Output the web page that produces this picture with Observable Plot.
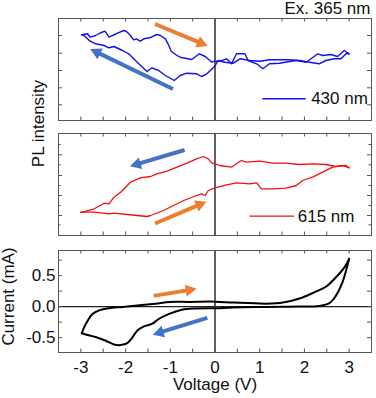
<!DOCTYPE html>
<html><head><meta charset="utf-8">
<script src="https://cdn.jsdelivr.net/npm/d3@7"></script>
<script src="https://cdn.jsdelivr.net/npm/@observablehq/plot@0.6"></script>
<style>
body{margin:0;background:#fff;font-family:"Liberation Sans",Arial,sans-serif;}
#chart{position:relative;width:376px;height:398px;overflow:hidden;background:#fff}
</style></head><body><div id="chart"></div>
<script>
// ---------- tick values ----------
const voltageTicks = [-3,-2.5,-2,-1.5,-1,-0.5,0,0.5,1,1.5,2,2.5,3];
const voltageLabels = [-3,-2,-1,0,1,2,3];
const currentTicks = [-0.5,-0.25,0,0.25,0.5,0.75];
const currentLabels = [-0.5,0,0.5];
const pl430Ticks = [15.7,32.7,50,67.3,85];
const pl615MajorTicks = [20,40,60,80.7];
const pl615MinorTicks = [10.7,30,50,70.7,91];

// ---------- 430 nm PL (a.u.) [voltage, intensity] ----------
const pl430Forward = [[-2.98,85.7],[-2.85,86.7],[-2.79,83.3],[-2.67,85],[-2.57,87.5],[-2.46,89.3],[-2.37,83.3],[-2.22,86.5],[-2.18,87.3],[-2.04,90],[-1.98,89],[-1.89,85],[-1.82,80.7],[-1.76,81.7],[-1.67,79.3],[-1.59,81.7],[-1.46,82.7],[-1.30,86],[-1.22,85],[-1.11,81.7],[-1.05,76.7],[-0.98,69.3],[-0.85,65],[-0.78,63.3],[-0.52,61],[-0.35,66.7],[-0.22,64],[-0.07,58.3],[0,59.3],[0.11,59.3],[0.26,61.7],[0.37,56.7],[0.48,66.7],[0.67,66.7],[0.74,60],[0.93,56.7],[1.07,51.7],[1.22,56.7],[1.44,57.3],[1.67,59],[1.82,60],[2.04,58.3],[2.30,66.7],[2.41,65],[2.59,66],[2.74,64],[2.89,70],[3.0,66.7]];
const pl430Reverse = [[3.0,66.7],[2.93,66.7],[2.82,61.7],[2.67,61.7],[2.48,60],[2.33,56.7],[2.11,58.3],[1.89,60],[1.67,60.7],[1.44,60.7],[1.22,60.7],[1.0,59.3],[0.78,60],[0.56,61.7],[0.41,57.3],[0.22,58.3],[0.07,60],[0,54.5],[-0.18,46.7],[-0.30,44],[-0.41,46.7],[-0.63,47.3],[-0.78,45],[-0.91,40],[-1.11,45],[-1.26,50],[-1.41,52.7],[-1.52,49],[-1.74,58.3],[-1.93,66.7],[-2.07,70],[-2.26,74],[-2.37,72.7],[-2.48,75],[-2.67,76.7],[-2.79,79.3],[-2.93,85],[-2.98,85.7]];

// ---------- 615 nm PL (a.u.) ----------
const pl615Forward = [[-3,23.3],[-2.70,23.3],[-2.37,21.7],[-2.26,22.3],[-1.96,21],[-1.74,20],[-1.52,19],[-1.44,20],[-1.15,25],[-0.93,30],[-0.70,35],[-0.41,40],[-0.30,41.7],[-0.22,40],[-0.15,45],[0,47.7],[0.26,50.7],[0.48,52.7],[0.78,51.7],[0.93,52.7],[1.04,46.7],[1.30,46.7],[1.59,47.3],[1.82,50],[1.96,55],[2.18,58.3],[2.41,63.3],[2.63,68.3],[2.85,70],[3.0,67.7]];
const pl615Reverse = [[3.0,67.7],[2.93,70],[2.70,69],[2.48,71],[2.18,71.7],[1.89,71],[1.59,72.3],[1.30,72.3],[1.0,74.3],[0.70,73.3],[0.59,75],[0.48,71.7],[0.37,68.3],[0.11,70],[0,71.7],[-0.07,72.3],[-0.15,76.7],[-0.26,79],[-0.41,76.7],[-0.63,72.3],[-0.85,68.3],[-1.07,64.3],[-1.30,61.7],[-1.44,59],[-1.67,57.7],[-1.89,53.3],[-2.11,43.3],[-2.26,38.3],[-2.37,31.7],[-2.48,32.3],[-2.70,26.7],[-2.96,23.3],[-3,23.3]];

// ---------- current (mA) ----------
const currentForward = [[-2.98,-0.43],[-2.93,-0.34],[-2.85,-0.23],[-2.74,-0.12],[-2.59,-0.06],[-2.37,-0.026],[-2.07,-0.005],[-1.63,0.027],[-1.33,0.048],[-1.0,0.076],[-0.59,0.076],[0,0.08],[0.41,0.065],[1.15,0.048],[1.52,0.065],[1.89,0.13],[2.22,0.23],[2.48,0.32],[2.70,0.47],[2.89,0.63],[3.0,0.77]];
const currentReverse = [[3.0,0.77],[2.96,0.66],[2.85,0.39],[2.70,0.17],[2.56,0.055],[2.33,0.01],[1.89,0],[1.15,-0.005],[0.41,-0.016],[0,-0.026],[-0.44,-0.03],[-0.74,-0.05],[-1.04,-0.12],[-1.26,-0.2],[-1.41,-0.28],[-1.59,-0.32],[-1.74,-0.39],[-1.85,-0.5],[-1.96,-0.59],[-2.11,-0.62],[-2.26,-0.61],[-2.44,-0.55],[-2.67,-0.49],[-2.89,-0.45],[-2.98,-0.43]];

// ---------- sweep-direction arrows [V1, y1, V2, y2] ----------
const arrows430Orange = [[-1.33,96,-0.15,74]];
const arrows430Blue = [[-0.93,31,-2.78,71]];
const arrows615Blue = [[-0.67,85,-1.89,68.7]];
const arrows615Orange = [[-1.33,11.5,-0.18,33.3]];
const arrowsCurOrange = [[-1.36,0.165,-0.4,0.28]];
const arrowsCurBlue = [[-0.16,-0.19,-1.38,-0.46]];

const ORANGE = "#ED7D31", BLUEARROW = "#4472C4";
const FONT = "'Liberation Sans', Arial, sans-serif";
const FS = 17;
const W = 376, ML = 58, MR = 5;
const innerW = W - ML - MR;

function arrowMark(list, color) {
  return (index, scales) => {
    const g = d3.create("svg:g");
    for (const a of list) {
      const x1 = scales.x(a[0]), y1 = scales.y(a[1]), x2 = scales.x(a[2]), y2 = scales.y(a[3]);
      const ang = Math.atan2(y2 - y1, x2 - x1);
      const hl = 11, hw = 6;
      const bx = x2 - hl * Math.cos(ang), by = y2 - hl * Math.sin(ang);
      const px = -Math.sin(ang), py = Math.cos(ang);
      g.append("line").attr("x1", x1).attr("y1", y1).attr("x2", bx + Math.cos(ang)).attr("y2", by + Math.sin(ang))
        .attr("stroke", color).attr("stroke-width", 4);
      g.append("path").attr("d", `M${x2},${y2}L${bx + hw * px},${by + hw * py}L${bx - hw * px},${by - hw * py}Z`).attr("fill", color);
    }
    return g.node();
  };
}

function frameMarks(innerH, majorY, minorY) {
  const m = [
    Plot.ruleX([0], {stroke: "#3a3a3a", strokeWidth: 1.6}),
    Plot.tickX(voltageTicks, {x: d => d, insetBottom: innerH - 3.5, stroke: "#555"}),
    Plot.tickX(voltageTicks, {x: d => d, insetTop: innerH - 3.5, stroke: "#555"}),
    Plot.tickY(majorY, {y: d => d, insetRight: innerW - 4, stroke: "#555"}),
    Plot.tickY(majorY, {y: d => d, insetLeft: innerW - 4, stroke: "#555"})
  ];
  if (minorY) {
    m.push(Plot.tickY(minorY, {y: d => d, insetRight: innerW - 2.5, stroke: "#555"}));
    m.push(Plot.tickY(minorY, {y: d => d, insetLeft: innerW - 2.5, stroke: "#555"}));
  }
  m.push(Plot.frame({stroke: "#555", strokeWidth: 1}));
  return m;
}

function baseOpts(height, mt, mb, ydomain, top) {
  return {
    width: W, height, marginLeft: ML, marginRight: MR, marginTop: mt, marginBottom: mb,
    x: {domain: [-3.5, 3.5], axis: null},
    y: {domain: ydomain, axis: null},
    style: {position: "absolute", left: "0px", top: top + "px", background: "transparent", overflow: "visible", fontFamily: FONT, fontSize: FS + "px", color: "#111"}
  };
}

// ---------- panel 1: 430 nm ----------
const p1 = Plot.plot({
  ...baseOpts(127, 18, 7, [0, 102], 0),
  marks: [
    ...frameMarks(102, pl430Ticks),
    Plot.line(pl430Forward, {x: d => d[0], y: d => d[1], stroke: "#1010f0", strokeWidth: 1.4}),
    Plot.line(pl430Reverse, {x: d => d[0], y: d => d[1], stroke: "#1010f0", strokeWidth: 1.4}),
    Plot.ruleY([21.7], {x1: 1.07, x2: 2.04, stroke: "#1010f0", strokeWidth: 1.4}),
    Plot.text(["430 nm"], {x: 2.15, y: 21.7, text: d => d, textAnchor: "start", lineAnchor: "middle", fontSize: FS, fill: "#111"}),
    Plot.text(["Ex. 365 nm"], {frameAnchor: "top-right", text: d => d, dx: -1, dy: -4.5, textAnchor: "end", lineAnchor: "bottom", fontSize: FS, fill: "#111"}),
    Plot.text(["PL intensity"], {frameAnchor: "bottom-left", text: d => d, dx: -20, dy: 3, rotate: -90, textAnchor: "middle", lineAnchor: "middle", fontSize: FS, fill: "#111"}),
    arrowMark(arrows430Orange, ORANGE),
    arrowMark(arrows430Blue, BLUEARROW)
  ]
});

// ---------- panel 2: 615 nm ----------
const p2 = Plot.plot({
  ...baseOpts(113, 6, 5, [0, 102], 127),
  marks: [
    ...frameMarks(102, pl615MajorTicks, pl615MinorTicks),
    Plot.line(pl615Forward, {x: d => d[0], y: d => d[1], stroke: "#f01010", strokeWidth: 1.3}),
    Plot.line(pl615Reverse, {x: d => d[0], y: d => d[1], stroke: "#f01010", strokeWidth: 1.3}),
    Plot.ruleY([19.3], {x1: 0.78, x2: 1.78, stroke: "#f01010", strokeWidth: 1.3}),
    Plot.text(["615 nm"], {x: 1.85, y: 19.3, text: d => d, textAnchor: "start", lineAnchor: "middle", fontSize: FS, fill: "#111"}),
    arrowMark(arrows615Blue, BLUEARROW),
    arrowMark(arrows615Orange, ORANGE)
  ]
});

// ---------- panel 3: current ----------
const p3 = Plot.plot({
  ...baseOpts(158, 10, 46, [-0.74, 0.905], 240),
  marks: [
    Plot.ruleY([0], {stroke: "#222", strokeWidth: 1.2}),
    ...frameMarks(102, currentTicks),
    Plot.line(currentForward, {x: d => d[0], y: d => d[1], stroke: "#000", strokeWidth: 2, curve: "catmull-rom"}),
    Plot.line(currentReverse, {x: d => d[0], y: d => d[1], stroke: "#000", strokeWidth: 2, curve: "catmull-rom"}),
    Plot.text(voltageLabels, {x: d => d, text: d => String(d), frameAnchor: "bottom", dy: 8, lineAnchor: "top", fontSize: FS, fill: "#111"}),
    Plot.text(currentLabels, {y: d => d, text: d => d.toFixed(1), frameAnchor: "left", dx: -3, textAnchor: "end", lineAnchor: "middle", fontSize: FS, fill: "#111"}),
    Plot.text(["Voltage (V)"], {x: 0, text: d => d, frameAnchor: "bottom", dy: 37.5, lineAnchor: "bottom", fontSize: FS, fill: "#111"}),
    Plot.text(["Current (mA)"], {frameAnchor: "left", text: d => d, dx: -49.5, dy: -5, rotate: -90, textAnchor: "middle", lineAnchor: "middle", fontSize: FS, fill: "#111"}),
    arrowMark(arrowsCurOrange, ORANGE),
    arrowMark(arrowsCurBlue, BLUEARROW)
  ]
});

const chart = document.getElementById("chart");
chart.append(p1, p2, p3);
</script></body></html>
